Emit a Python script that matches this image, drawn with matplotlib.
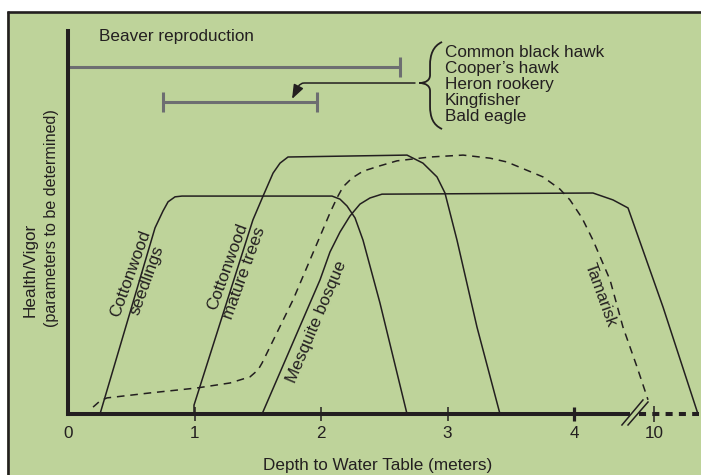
import matplotlib
matplotlib.use('Agg')
import matplotlib.pyplot as plt
from matplotlib.patches import Rectangle, PathPatch
from matplotlib.path import Path
from matplotlib.lines import Line2D

plt.rcParams['font.family'] = ['Liberation Sans', 'DejaVu Sans']

INK = '#231f20'
GREEN = '#bed39a'
BAR = '#6d6e71'

# ---------------- data (depth in m on a broken axis, vigor 0-10) ----------------
seedlings_x = [0.253, 0.688, 0.751, 0.791, 0.846, 0.901, 2.087, 2.150, 2.206, 2.269, 2.332, 2.466, 2.680]
seedlings_y = [0.0, 4.86, 5.30, 5.54, 5.67, 5.69, 5.69, 5.61, 5.43, 5.12, 4.54, 2.90, 0.0]

mature_x = [0.996, 0.996, 1.462, 1.542, 1.621, 1.676, 1.739, 2.680, 2.806, 2.917, 2.980, 3.075, 3.233, 3.415]
mature_y = [0.0, 0.23, 5.07, 5.69, 6.29, 6.55, 6.71, 6.76, 6.55, 6.19, 5.77, 4.54, 2.27, 0.0]

mesquite_x = [1.534, 1.992, 2.071, 2.150, 2.229, 2.308, 2.387, 2.482, 4.150, 4.308, 4.427, 4.704, 4.980]
mesquite_y = [0.0, 3.50, 4.23, 4.75, 5.17, 5.48, 5.64, 5.74, 5.77, 5.59, 5.38, 2.79, 0.0]

tamarisk_x = [0.198, 0.253, 0.308, 0.648, 1.020, 1.281, 1.439, 1.502, 1.534, 1.779, 2.071, 2.126,
              2.174, 2.245, 2.332, 2.466, 2.601, 2.862, 3.123, 3.336, 3.470, 3.755, 3.889, 3.968,
              4.063, 4.150, 4.285, 4.387, 4.498, 4.585]
tamarisk_y = [0.18, 0.34, 0.42, 0.55, 0.68, 0.81, 0.97, 1.15, 1.33, 2.98, 5.25, 5.64,
              5.93, 6.16, 6.34, 6.48, 6.61, 6.71, 6.76, 6.68, 6.58, 6.19, 5.87, 5.59,
              5.12, 4.54, 3.50, 2.27, 1.23, 0.37]

beaver_range = [0.0, 2.625]
raptor_range = [0.751, 1.972]

tick_pos = [0, 1, 2, 3, 4, 4.632]
tick_labels = ['0', '1', '2', '3', '4', '10']

birds = ['Common black hawk', 'Cooper\u2019s hawk', 'Heron rookery', 'Kingfisher', 'Bald eagle']

# ---------------- figure ----------------
W, H = 701, 475
fig = plt.figure(figsize=(W / 100, H / 100), dpi=100)
fig.patch.set_facecolor('white')
fig.patches.append(Rectangle((7 / W, 0), 1 - 7 / W, 1 - 11.5 / H, transform=fig.transFigure,
                             fc=GREEN, ec='none', zorder=-5))
fig.lines.append(Line2D([7 / W, 1], [1 - 12.3 / H, 1 - 12.3 / H], transform=fig.transFigure,
                        color=INK, lw=1.9, solid_capstyle='butt', zorder=-4))
fig.lines.append(Line2D([8.2 / W, 8.2 / W], [0, 1 - 11.3 / H], transform=fig.transFigure,
                        color=INK, lw=1.9, solid_capstyle='butt', zorder=-4))

ax = fig.add_axes([68 / W, 61 / H, 631 / W, 383 / H])
ax.set_zorder(1)
ax.set_xlim(0, 631 / 126.5)
ax.set_ylim(0, 10)
ax.patch.set_visible(False)
for s in ['top', 'right']:
    ax.spines[s].set_visible(False)
ax.spines['left'].set_bounds(0, 10)
ax.spines['bottom'].set_bounds(0, 4.427)
for s in ['left', 'bottom']:
    ax.spines[s].set_linewidth(2.9)
    ax.spines[s].set_color(INK)
    ax.spines[s].set_capstyle('projecting')
ax.set_yticks([])
ax.set_xticks(tick_pos, tick_labels)
ax.tick_params(axis='x', direction='inout', length=10, width=1.1, color=INK,
               labelsize=12.3, labelcolor=INK, pad=3.5)
xt = ax.xaxis.get_major_ticks()
xt[0].tick1line.set_visible(False)
xt[4].tick1line.set_markeredgewidth(2.3)
xt[5].tick1line.set_markersize(12)

# broken continuation of the axis
ax.plot([4.514, 4.988], [0, 0], color=INK, lw=2.9, dashes=(1.75, 1.55), clip_on=False,
        solid_capstyle='butt', dash_capstyle='butt', zorder=3)
ax.plot([4.379, 4.545], [-0.287, 0.366], color=INK, lw=1.1, clip_on=False)
ax.plot([4.427, 4.585], [-0.287, 0.313], color=INK, lw=1.1, clip_on=False)

# curves
lw = 1.1
ax.plot(seedlings_x, seedlings_y, color=INK, lw=lw, clip_on=False)
ax.plot(mature_x, mature_y, color=INK, lw=lw, clip_on=False)
ax.plot(mesquite_x, mesquite_y, color=INK, lw=lw, clip_on=False)
ax.plot(tamarisk_x, tamarisk_y, color=INK, lw=lw, dashes=(5.0, 3.8), clip_on=False)

# range bars
ax.hlines(9.06, beaver_range[0], beaver_range[1], color=BAR, lw=2.2)
ax.vlines(beaver_range[1], 9.06 - 0.27, 9.06 + 0.27, color=BAR, lw=2.2)
ax.hlines(8.15, raptor_range[0], raptor_range[1], color=BAR, lw=2.2)
ax.vlines(raptor_range, 8.15 - 0.27, 8.15 + 0.27, color=BAR, lw=2.2)

# brace
verts = [(2.957, 9.713), (2.885, 9.608), (2.862, 9.373), (2.862, 9.112),
         (2.862, 8.851),
         (2.862, 8.721), (2.830, 8.642), (2.775, 8.642),
         (2.830, 8.642), (2.862, 8.564), (2.862, 8.433),
         (2.862, 8.042),
         (2.862, 7.755), (2.885, 7.546), (2.957, 7.441)]
codes = [Path.MOVETO, Path.CURVE4, Path.CURVE4, Path.CURVE4, Path.LINETO,
         Path.CURVE4, Path.CURVE4, Path.CURVE4, Path.CURVE4, Path.CURVE4, Path.CURVE4,
         Path.LINETO, Path.CURVE4, Path.CURVE4, Path.CURVE4]
ax.add_patch(PathPatch(Path(verts, codes), fc='none', ec=INK, lw=1.3))

# arrow
ax.annotate('', xy=(1.771, 8.225), xytext=(2.743, 8.642),
            arrowprops=dict(arrowstyle='-|>,head_length=0.85,head_width=0.32',
                            connectionstyle='angle,angleA=0,angleB=63,rad=4',
                            color=INK, lw=1.1, shrinkA=0, shrinkB=0))

# texts
fs = 12.3
ax.text(0.245, 9.731, 'Beaver reproduction', fontsize=fs, color=INK, va='baseline', ha='left')
for i, b in enumerate(birds):
    ax.text(2.980, [9.313, 8.896, 8.486, 8.068, 7.642][i], b, fontsize=fs, color=INK,
            va='baseline', ha='left')

ax.text(0.561, 3.58, 'Cottonwood\nseedlings', fontsize=fs, color=INK, rotation=70,
        rotation_mode='anchor', ha='center', va='center', multialignment='center')
ax.text(1.328, 3.76, 'Cottonwood\nmature trees', fontsize=fs, color=INK, rotation=70,
        rotation_mode='anchor', ha='center', va='center', multialignment='center')
ax.text(1.968, 2.40, 'Mesquite bosque', fontsize=fs, color=INK, rotation=67,
        rotation_mode='anchor', ha='center', va='center')
ax.text(4.211, 3.11, 'Tamarisk', fontsize=12.0, color=INK, rotation=-70,
        rotation_mode='anchor', ha='center', va='center')

ax.text(2.447, -1.462, 'Depth to Water Table (meters)', fontsize=fs, color=INK,
        ha='center', va='baseline', clip_on=False)
ax.text(-0.300, 3.76, 'Health/Vigor', fontsize=fs, color=INK, rotation=90,
        ha='center', va='center', rotation_mode='anchor', clip_on=False)
ax.text(-0.134, 5.12, '(parameters to be determined)', fontsize=11.6, color=INK, rotation=90,
        ha='center', va='center', rotation_mode='anchor', clip_on=False)

fig.savefig('out.png', dpi=100, facecolor=fig.get_facecolor())
